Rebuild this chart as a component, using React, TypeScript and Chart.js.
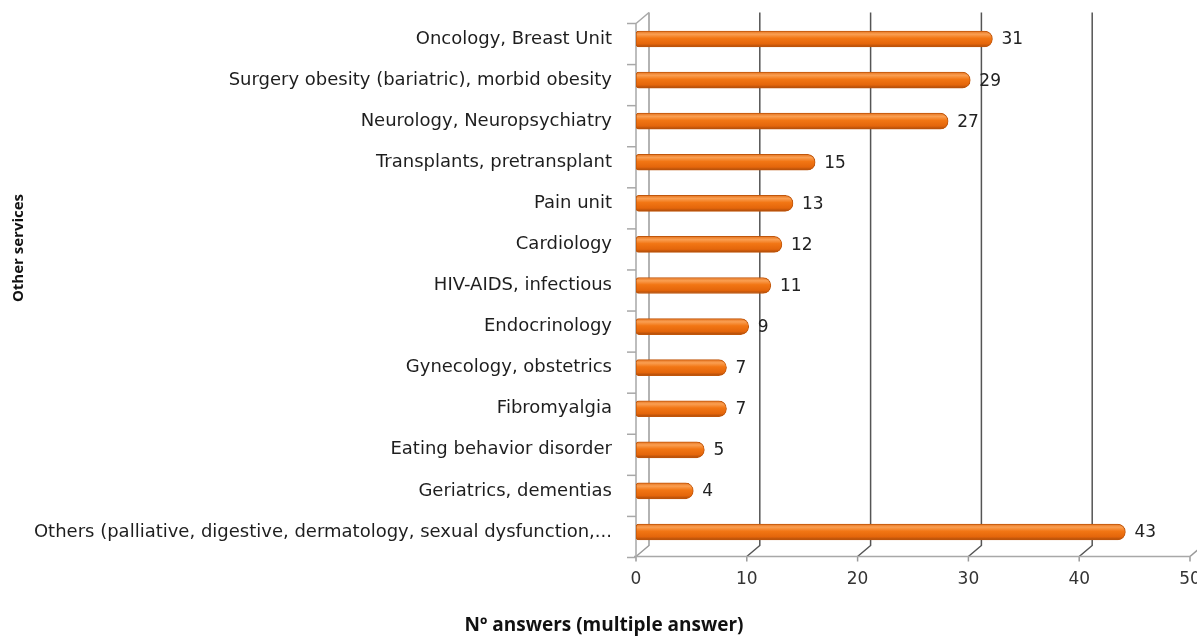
import React, { useEffect, useRef } from "react";
import { Chart, registerables } from "chart.js";
Chart.register(...registerables);

const categories = [
  "Oncology, Breast Unit",
  "Surgery obesity (bariatric), morbid obesity",
  "Neurology, Neuropsychiatry",
  "Transplants, pretransplant",
  "Pain unit",
  "Cardiology",
  "HIV-AIDS, infectious",
  "Endocrinology",
  "Gynecology, obstetrics",
  "Fibromyalgia",
  "Eating behavior disorder",
  "Geriatrics, dementias",
  "Others (palliative, digestive, dermatology, sexual dysfunction,...",
];
const values = [31, 29, 27, 15, 13, 12, 11, 9, 7, 7, 5, 4, 43];
const xTicks = [0, 10, 20, 30, 40, 50];
const xTitle = "Nº answers (multiple answer)";
const yTitle = "Other services";

const DX = 13;
const DY = 11;

const frame3d = {
  id: "frame3d",
  afterDatasetsUpdate(chart: any) {
    const meta = chart.getDatasetMeta(0);
    meta.data.forEach((bar: any) => {
      bar.x += DX;
    });
  },
  beforeDatasetsDraw(chart: any) {
    const { ctx, chartArea, scales } = chart;
    const { top, bottom, left, right } = chartArea;
    const x = scales.x;
    const floorY = bottom + 4;
    ctx.save();
    ctx.lineWidth = 1.5;
    xTicks.forEach((v) => {
      const xf = x.getPixelForValue(v);
      const xb = xf + DX;
      ctx.strokeStyle = v === 0 ? "#9a9a9a" : "#555555";
      ctx.beginPath();
      if (v < 50) {
        ctx.moveTo(xb, top - 6);
        ctx.lineTo(xb, floorY - DY);
        ctx.lineTo(xf, floorY);
      } else {
        ctx.strokeStyle = "#9a9a9a";
        ctx.moveTo(xf + DX, floorY - DY);
        ctx.lineTo(xf, floorY);
      }
      ctx.stroke();
      ctx.strokeStyle = "#9a9a9a";
      ctx.beginPath();
      ctx.moveTo(xf, floorY);
      ctx.lineTo(xf, floorY + 5);
      ctx.stroke();
    });
    ctx.strokeStyle = "#a8a8a8";
    ctx.beginPath();
    ctx.moveTo(left - 2, floorY);
    ctx.lineTo(right, floorY);
    ctx.stroke();
    ctx.beginPath();
    ctx.moveTo(left, floorY);
    ctx.lineTo(left, top + 5);
    ctx.lineTo(left + DX, top - 6);
    ctx.stroke();
    const n = categories.length;
    const band = (bottom - top) / n;
    for (let i = 0; i <= n; i++) {
      const y = top + i * band + 5;
      ctx.beginPath();
      ctx.moveTo(left - 9, y);
      ctx.lineTo(left, y);
      ctx.stroke();
    }
    ctx.restore();
  },
  afterDatasetsDraw(chart: any) {
    const { ctx } = chart;
    const meta = chart.getDatasetMeta(0);
    ctx.save();
    ctx.font = "17px 'DejaVu Sans'";
    ctx.fillStyle = "#222222";
    ctx.textAlign = "left";
    ctx.textBaseline = "middle";
    meta.data.forEach((bar: any, i: number) => {
      ctx.fillText(String(values[i]), bar.x + 9, bar.y + 1);
    });
    ctx.restore();
  },
  afterDraw(chart: any) {
    const { ctx } = chart;
    ctx.save();
    ctx.fillStyle = "#111111";
    ctx.font = "bold 19px 'Open Sans'";
    ctx.textAlign = "center";
    ctx.textBaseline = "middle";
    ctx.fillText(xTitle, 604, 626);
    ctx.translate(19, 248);
    ctx.rotate(-Math.PI / 2);
    ctx.font = "bold 15px 'Open Sans'";
    ctx.fillText(yTitle, 0, 0);
    ctx.restore();
  },
};

export default function App() {
  const ref = useRef<HTMLCanvasElement | null>(null);
  useEffect(() => {
    if (!ref.current) return;
    const chart = new Chart(ref.current, {
      type: "bar",
      data: {
        labels: categories,
        datasets: [
          {
            data: values,
            barThickness: 16,
            backgroundColor: (c: any) => {
              const ch = c.chart;
              const ys = ch.scales && ch.scales.y;
              if (!ys || c.dataIndex === undefined || !ch.chartArea) return "#EE7415";
              const yc = ys.getPixelForValue(c.dataIndex);
              const g = ch.ctx.createLinearGradient(0, yc - 8, 0, yc + 8);
              g.addColorStop(0, "#E5731E");
              g.addColorStop(0.2, "#FA9F52");
              g.addColorStop(0.45, "#F27614");
              g.addColorStop(0.8, "#E4660B");
              g.addColorStop(1, "#A9490A");
              return g;
            },
            borderColor: "#C0560B",
            borderWidth: 1,
            borderSkipped: false,
            borderRadius: { topLeft: 3, bottomLeft: 3, topRight: 8, bottomRight: 8 },
          },
        ],
      },
      options: {
        indexAxis: "y",
        animation: false,
        responsive: false,
        maintainAspectRatio: false,
        layout: { padding: { top: 18.5, bottom: 0, left: 0, right: 0 } },
        plugins: { legend: { display: false }, tooltip: { enabled: false } },
        scales: {
          x: {
            min: 0,
            max: 50,
            afterBuildTicks: (s: any) => {
              s.ticks = xTicks.map((v) => ({ value: v }));
            },
            afterFit: (s: any) => {
              s.height = 85.5;
              s.paddingRight = 7;
              s.paddingLeft = 0;
            },
            grid: { display: false, drawTicks: false },
            border: { display: false },
            ticks: {
              padding: 17,
              color: "#333333",
              font: { family: "'DejaVu Sans'", size: 17 },
            },
          },
          y: {
            afterFit: (s: any) => {
              s.width = 636;
              s.paddingTop = 0;
              s.paddingBottom = 0;
            },
            grid: { display: false, drawTicks: false },
            border: { display: false },
            ticks: {
              padding: 24,
              color: "#1e1e1e",
              font: { family: "'DejaVu Sans'", size: 18 },
              autoSkip: false,
            },
          },
        },
      },
      plugins: [frame3d],
    });
    return () => chart.destroy();
  }, []);
  return (
    <div style={{ position: "absolute", left: 0, top: 0, width: 1197, height: 638, background: "#ffffff" }}>
      <canvas ref={ref} width={1197} height={638} />
    </div>
  );
}
